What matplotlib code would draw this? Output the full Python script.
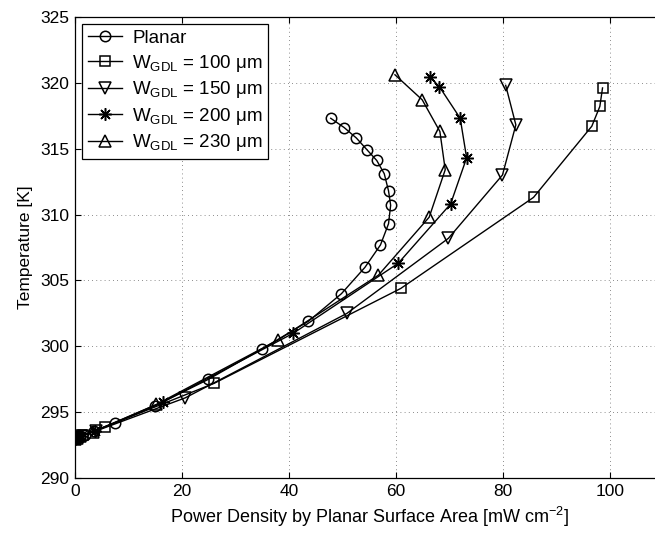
import matplotlib
matplotlib.use("Agg")
import matplotlib.pyplot as plt

plt.rcParams['font.family'] = ['Liberation Sans', 'DejaVu Sans']
plt.rcParams['mathtext.fontset'] = 'custom'
plt.rcParams['mathtext.rm'] = 'Liberation Sans'
plt.rcParams['mathtext.it'] = 'Liberation Sans:italic'

# Power density [mW cm^-2] and temperature [K] for each cell design
planar_x = [0, 0.4, 1.0, 1.8, 3.6, 7.5, 15.0, 24.9, 34.9, 43.6, 49.8, 54.2, 57.1,
            58.6, 59.0, 58.6, 57.8, 56.4, 54.6, 52.6, 50.3, 47.8]
planar_y = [293.0, 293.1, 293.15, 293.3, 293.6, 294.2, 295.5, 297.5, 299.8, 301.9,
            304.0, 306.0, 307.7, 309.3, 310.7, 311.8, 313.1, 314.1, 314.9, 315.8,
            316.6, 317.3]

w100_x = [0, 0.5, 1.5, 5.6, 26.0, 60.9, 85.7, 96.6, 98.1, 98.6]
w100_y = [293.0, 293.1, 293.25, 293.9, 297.2, 304.4, 311.3, 316.7, 318.2, 319.6]

w150_x = [0, 0.4, 1.2, 4.0, 20.6, 50.8, 69.8, 79.9, 82.4, 80.5]
w150_y = [293.0, 293.1, 293.2, 293.6, 296.1, 302.5, 308.2, 313.0, 316.8, 319.8]

w200_x = [0, 0.3, 1.0, 3.7, 16.5, 40.8, 60.4, 70.2, 73.2, 72.0, 68.1, 66.4]
w200_y = [293.0, 293.05, 293.2, 293.6, 295.8, 301.0, 306.3, 310.8, 314.3, 317.3,
          319.7, 320.4]

w230_x = [0, 0.3, 1.0, 3.4, 15.2, 38.0, 56.7, 66.2, 69.2, 68.2, 64.9, 59.8]
w230_y = [293.0, 293.05, 293.2, 293.5, 295.6, 300.5, 305.4, 309.8, 313.4, 316.3,
          318.7, 320.6]

labels = ['Planar',
          r'W$_{\mathrm{GDL}}$ = 100 $\mathrm{\mu}$m',
          r'W$_{\mathrm{GDL}}$ = 150 $\mathrm{\mu}$m',
          r'W$_{\mathrm{GDL}}$ = 200 $\mathrm{\mu}$m',
          r'W$_{\mathrm{GDL}}$ = 230 $\mathrm{\mu}$m']

x_ticks = [0, 20, 40, 60, 80, 100]
y_ticks = [290, 295, 300, 305, 310, 315, 320, 325]

fig = plt.figure(figsize=(6.55, 5.33), dpi=100)
ax = fig.add_axes([0.1145, 0.1026, 0.8985, 0.866])

asterisk = (8, 2, 0)
series = [
    (planar_x, planar_y, 'o', 7.5),
    (w100_x, w100_y, 's', 6.5),
    (w150_x, w150_y, 'v', 8),
    (w200_x, w200_y, asterisk, 9),
    (w230_x, w230_y, '^', 8),
]
for (xs, ys, m, ms), lab in zip(series, labels):
    ax.plot(xs, ys, color='black', lw=1.0, marker=m, ms=ms,
            mfc='none', mec='black', mew=1.1, label=lab)

ax.set_xlim(0, 110)
ax.set_ylim(290, 325)
ax.set_xticks(x_ticks)
ax.set_yticks(y_ticks)
ax.tick_params(direction='in', top=True, right=True, labelsize=12.5, length=4,
               width=0.8, pad=4)
ax.grid(True, color='black', ls=(0, (1, 4)), lw=0.6, alpha=0.6)
for s in ax.spines.values():
    s.set_linewidth(0.9)

ax.set_xlabel(r'Power Density by Planar Surface Area [mW cm$^{-2}$]', fontsize=13,
              labelpad=4)
ax.set_ylabel('Temperature [K]', fontsize=12.5, labelpad=5)

leg = ax.legend(loc='upper left', fontsize=13.5, frameon=True, fancybox=False,
                edgecolor='black', framealpha=1, handlelength=1.8,
                borderaxespad=0.4, labelspacing=0.3, handletextpad=0.55,
                borderpad=0.3)
leg.get_frame().set_linewidth(0.9)

fig.savefig('out.png', dpi=100)
